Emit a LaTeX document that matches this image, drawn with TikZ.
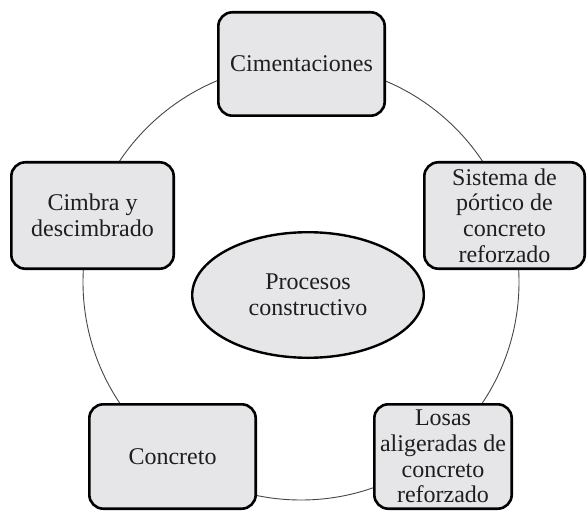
\documentclass[tikz,border=0pt]{standalone}
\usepackage{fontspec}
\setmainfont{Liberation Serif}
\usetikzlibrary{shapes.geometric}
\definecolor{boxfill}{RGB}{230,229,232}
\definecolor{txt}{RGB}{30,30,30}
\definecolor{ringcol}{RGB}{70,70,70}
\tikzset{
  stage/.style={draw=black, line width=2.6pt, fill=boxfill, rounded corners=14pt,
    inner sep=0pt, align=center, text=txt, font=\fontsize{24}{25.7}\selectfont},
  hub/.style={ellipse, draw=black, line width=2.4pt, fill=boxfill, inner sep=0pt,
    align=center, text=txt, font=\fontsize{24}{25.7}\selectfont},
  ringstyle/.style={circle, draw=ringcol, line width=0.9pt, inner sep=0pt}
}
\begin{document}
\begin{tikzpicture}[x=1pt,y=-1pt]
\useasboundingbox (0,0) rectangle (588,513);
\node[ringstyle, minimum size=436pt] (ring) at (301,282) {};
\node[stage, minimum width=166.4pt, minimum height=103.4pt] (cim) at (301.5,64) {Cimentaciones};
\node[stage, minimum width=160.4pt, minimum height=106.4pt] (sis) at (504.5,215.5) {Sistema de\\p\'ortico de\\concreto\\reforzado};
\node[stage, minimum width=137.4pt, minimum height=104.4pt] (los) at (443,456.5) {Losas\\aligeradas de\\concreto\\reforzado};
\node[stage, minimum width=166.4pt, minimum height=104.4pt] (con) at (172.5,456.5) {Concreto};
\node[stage, minimum width=162.4pt, minimum height=106.4pt] (cmb) at (92.5,215.5) {Cimbra y\\descimbrado};
\node[hub, minimum width=231.6pt, minimum height=125.6pt] (hub) at (308,295) {Procesos\\constructivo};
\end{tikzpicture}
\end{document}
